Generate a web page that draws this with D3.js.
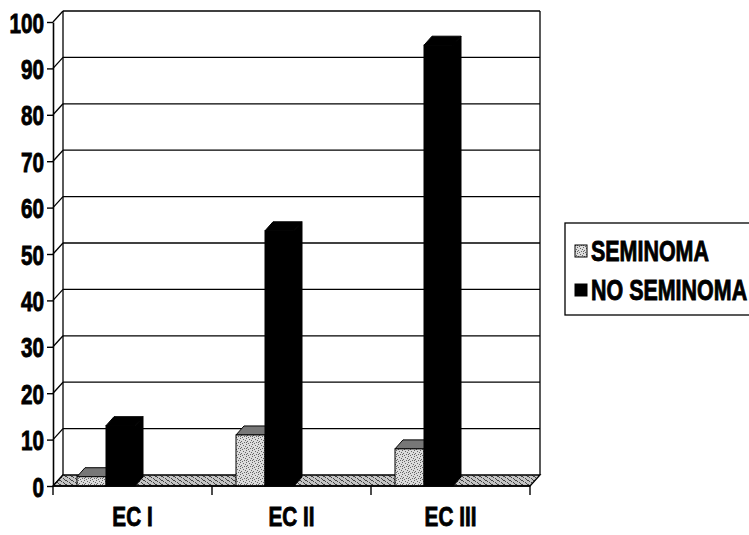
<!DOCTYPE html>
<html>
<head>
<meta charset="utf-8">
<script src="https://cdn.jsdelivr.net/npm/d3@7"></script>
<style>
  html, body { margin: 0; padding: 0; background: #fff; }
  svg { display: block; }
  text { font-family: "Liberation Sans", Arial, sans-serif; font-weight: bold; fill: #000; stroke: #000; stroke-width: 0.9px; }
</style>
</head>
<body>
<svg id="chart" width="749" height="535"></svg>
<script>
// Stages of disease and the percentage for each tumour type
const categories = ["EC I", "EC II", "EC III"];
const seriesNames = ["SEMINOMA", "NO SEMINOMA"];
const seminoma = [2, 11, 8];
const noSeminoma = [13, 55, 95];
const yTicks = [0, 10, 20, 30, 40, 50, 60, 70, 80, 90, 100];

const svg = d3.select("#chart");
const NARROW = 0.74;   // horizontal squeeze giving a narrow bold face
const FONT = "28px";

// plot frame (front plane) and depth offsets for the 3D look
const plotLeft = 53, plotRight = 530, plotBottom = 486, plotTop = 22;
const wallDX = 10, wallDY = 11;   // back wall offset
const barDX = 8, barDY = 9;       // column depth

const y = d3.scaleLinear().domain([0, 100]).range([plotBottom, plotTop]);
const xCat = d3.scaleBand().domain(categories).range([plotLeft, plotRight]).padding(0);
const xSer = d3.scaleBand().domain(seriesNames).range([24, 82]).padding(0);

// fill patterns: light stipple for SEMINOMA, darker stipple for the floor
const defs = svg.append("defs");
const semi = defs.append("pattern").attr("id", "semi").attr("patternUnits", "userSpaceOnUse")
  .attr("width", 6).attr("height", 6);
semi.append("rect").attr("width", 6).attr("height", 6).attr("fill", "#dcdcdc");
[[0,0],[3,1],[1,3],[4,4],[2,5],[5,2],[0,4]].forEach(([a,b]) =>
  semi.append("rect").attr("x", a).attr("y", b).attr("width", 1).attr("height", 1).attr("fill", "#666"));
const floorPat = defs.append("pattern").attr("id", "floor").attr("patternUnits", "userSpaceOnUse")
  .attr("width", 6).attr("height", 4);
floorPat.append("rect").attr("width", 6).attr("height", 4).attr("fill", "#c4c4c4");
[[0,0],[3,2],[1,1],[4,3],[5,0]].forEach(([a,b]) =>
  floorPat.append("rect").attr("x", a).attr("y", b).attr("width", 1).attr("height", 1).attr("fill", "#444"));

const fills = { "SEMINOMA": "url(#semi)", "NO SEMINOMA": "#000" };

// back wall with gridlines
const g = svg.append("g").attr("stroke", "#000").attr("fill", "none").attr("stroke-width", 1.3);
g.append("line").attr("x1", plotLeft + wallDX).attr("x2", plotLeft + wallDX)
  .attr("y1", y(100) - wallDY).attr("y2", y(0) - wallDY);
g.append("line").attr("x1", plotRight + wallDX).attr("x2", plotRight + wallDX)
  .attr("y1", y(100) - wallDY).attr("y2", y(0) - wallDY);
g.selectAll("line.grid").data(yTicks.filter(d => d > 0)).join("line").attr("class", "grid")
  .attr("x1", plotLeft + wallDX).attr("x2", plotRight + wallDX)
  .attr("y1", d => y(d) - wallDY).attr("y2", d => y(d) - wallDY);
// side wall connectors from the value axis to the back wall
g.selectAll("line.conn").data(yTicks).join("line").attr("class", "conn")
  .attr("x1", plotLeft).attr("x2", plotLeft + wallDX)
  .attr("y1", d => y(d)).attr("y2", d => y(d) - wallDY);

// floor
svg.append("polygon")
  .attr("points", [[plotLeft, plotBottom], [plotRight, plotBottom], [plotRight + wallDX, plotBottom - wallDY], [plotLeft + wallDX, plotBottom - wallDY]].join(" "))
  .attr("fill", "url(#floor)").attr("stroke", "#000").attr("stroke-width", 1.3);

// columns
const rows = [];
categories.forEach((c, i) => {
  rows.push({ cat: c, ser: "SEMINOMA", v: seminoma[i] });
  rows.push({ cat: c, ser: "NO SEMINOMA", v: noSeminoma[i] });
});
const bars = svg.append("g").selectAll("g").data(rows).join("g");
bars.each(function (d) {
  const el = d3.select(this);
  const x0 = xCat(d.cat) + xSer(d.ser);
  const w = xSer.bandwidth();
  const yt = y(d.v), yb = y(0);
  const isBlack = d.ser === "NO SEMINOMA";
  el.append("polygon") // side face
    .attr("points", [[x0 + w, yt], [x0 + w + barDX, yt - barDY], [x0 + w + barDX, yb - barDY], [x0 + w, yb]].join(" "))
    .attr("fill", isBlack ? "#000" : "#999").attr("stroke", "#000").attr("stroke-width", 1);
  el.append("polygon") // top face
    .attr("points", [[x0, yt], [x0 + w, yt], [x0 + w + barDX, yt - barDY], [x0 + barDX, yt - barDY]].join(" "))
    .attr("fill", isBlack ? "#000" : "#777").attr("stroke", "#000").attr("stroke-width", 1);
  el.append("rect") // front face
    .attr("x", x0).attr("y", yt).attr("width", w).attr("height", yb - yt)
    .attr("fill", fills[d.ser]).attr("stroke", "#000").attr("stroke-width", 1);
});

// value axis
const yAxis = svg.append("g").attr("transform", `translate(${plotLeft},0)`)
  .call(d3.axisLeft(y).tickValues(yTicks).tickSize(6).tickPadding(3).tickSizeOuter(0));
yAxis.select(".domain").attr("stroke", "#000").attr("stroke-width", 1.6);
yAxis.selectAll(".tick line").attr("stroke", "#000").attr("stroke-width", 1.4);
yAxis.selectAll(".tick text")
  .attr("x", -9 / NARROW).attr("transform", `scale(${NARROW},1)`)
  .attr("dy", "0.36em").attr("fill", "#000").attr("stroke", "#000").attr("stroke-width", 0.9)
  .style("font-family", "'Liberation Sans', Arial, sans-serif")
  .style("font-weight", "bold").style("font-size", FONT);

// category axis along the front edge of the floor
const xAxis = svg.append("g").attr("transform", `translate(0,${plotBottom})`)
  .call(d3.axisBottom(xCat).tickSize(0).tickPadding(20));
xAxis.select(".domain").remove();
xAxis.selectAll(".tick")
  .attr("transform", d => `translate(${xCat(d) + xCat.bandwidth() / 2},0) scale(${NARROW},1)`);
xAxis.selectAll(".tick text")
  .attr("fill", "#000").attr("stroke", "#000").attr("stroke-width", 0.9)
  .style("font-family", "'Liberation Sans', Arial, sans-serif")
  .style("font-weight", "bold").style("font-size", FONT);
svg.append("line").attr("x1", plotLeft).attr("x2", plotRight).attr("y1", plotBottom).attr("y2", plotBottom)
  .attr("stroke", "#000").attr("stroke-width", 1.6);
svg.selectAll("line.ctick").data(categories.map(c => xCat(c)).concat([xCat.range()[1]]))
  .join("line").attr("class", "ctick")
  .attr("x1", d => d).attr("x2", d => d).attr("y1", plotBottom).attr("y2", plotBottom + 9)
  .attr("stroke", "#000").attr("stroke-width", 1.4);

// legend
const lg = svg.append("g").attr("transform", "translate(565,223)");
lg.append("rect").attr("x", 0).attr("y", 0).attr("width", 200).attr("height", 92)
  .attr("fill", "#fff").attr("stroke", "#000").attr("stroke-width", 1.3);
seriesNames.forEach((s, i) => {
  const cy = 28 + i * 39;
  lg.append("rect").attr("x", 10).attr("y", cy - 6).attr("width", 12).attr("height", 12)
    .attr("fill", fills[s]).attr("stroke", "#000").attr("stroke-width", 1);
  lg.append("text").attr("x", 26 / NARROW).attr("y", cy).attr("dy", "0.36em")
    .attr("transform", `scale(${NARROW},1)`)
    .style("font-size", "29px").text(s);
});
</script>
</body>
</html>
